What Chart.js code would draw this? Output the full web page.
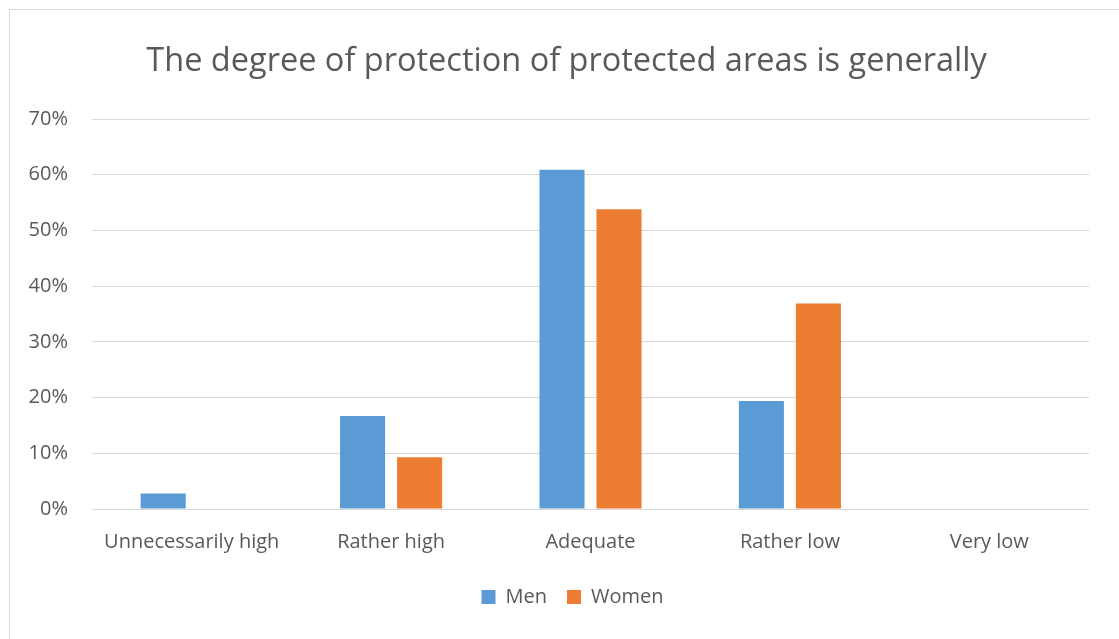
<!DOCTYPE html>
<html>
<head>
<meta charset="utf-8">
<script src="https://cdn.jsdelivr.net/npm/chart.js@4.4.0/dist/chart.umd.min.js"></script>
<style>
  html, body { margin: 0; padding: 0; background: #fff; }
  #frame { position: absolute; left: 9px; top: 9px; width: 1120px; height: 640px; border: 1px solid #d9d9d9; }
  #wrap { position: absolute; left: 0; top: 0; width: 1119px; height: 639px; }
</style>
</head>
<body>
<div id="frame"></div>
<div id="wrap"><canvas id="chart" width="1119" height="639"></canvas></div>
<script>
// chart data
const categories = ['Unnecessarily high', 'Rather high', 'Adequate', 'Rather low', 'Very low'];
const menValues = [2.8, 16.7, 60.9, 19.4, 0];
const womenValues = [0, 9.3, 53.8, 36.9, 0];
const tickValues = [0, 10, 20, 30, 40, 50, 60, 70];

const textColor = '#595959';
const fontFamily = "'Open Sans', 'Noto Sans', sans-serif";

// title and legend sit centred on the whole frame, not on the axis box
const shiftBlocks = {
  id: 'shiftBlocks',
  afterLayout(chart) {
    if (chart.titleBlock) {
      chart.titleBlock.left += 12;
      chart.titleBlock.right += 12;
    }
    if (chart.legend) {
      chart.legend.left += 18;
      chart.legend.right += 18;
    }
  },
};

const ctx = document.getElementById('chart').getContext('2d');

new Chart(ctx, {
  type: 'bar',
  data: {
    labels: categories,
    datasets: [
      { label: 'Men', data: menValues, backgroundColor: '#5b9bd5' },
      { label: 'Women', data: womenValues, backgroundColor: '#ed7d31' },
    ],
  },
  options: {
    responsive: false,
    animation: false,
    categoryPercentage: 0.572,
    barPercentage: 0.79,
    layout: { padding: { left: 20, right: 30, top: 20, bottom: 22 } },
    plugins: {
      title: {
        display: true,
        text: 'The degree of protection of protected areas is generally',
        color: textColor,
        font: { family: fontFamily, size: 32.5, weight: 'normal' },
        padding: { top: 22, bottom: 38 },
      },
      legend: {
        position: 'bottom',
        labels: {
          color: textColor,
          font: { family: fontFamily, size: 20 },
          boxWidth: 14,
          boxHeight: 14,
          padding: 20,
        },
      },
      tooltip: { enabled: false },
    },
    scales: {
      x: {
        grid: { display: false },
        border: { display: false },
        ticks: {
          color: textColor,
          font: { family: fontFamily, size: 20 },
          padding: 13,
        },
      },
      y: {
        min: 0,
        max: 70,
        afterBuildTicks: (scale) => {
          scale.ticks = tickValues.map((v) => ({ value: v }));
        },
        afterFit: (scale) => {
          scale.width = 72;
        },
        grid: { color: '#d9d9d9', lineWidth: 1, drawTicks: false },
        border: { display: false },
        ticks: {
          color: textColor,
          font: { family: fontFamily, size: 20 },
          padding: 24,
          callback: (v) => v + '%',
        },
      },
    },
  },
  plugins: [shiftBlocks],
});
</script>
</body>
</html>
